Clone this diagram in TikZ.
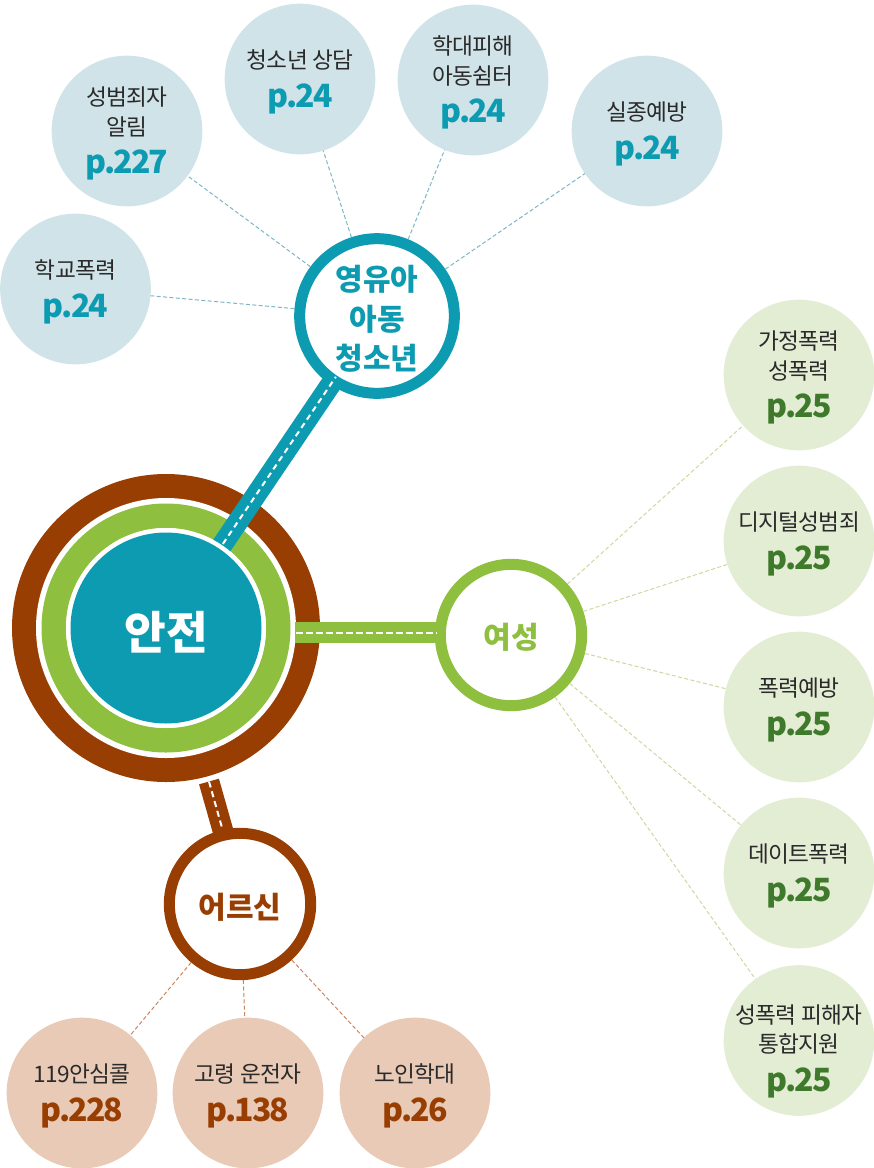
\documentclass[tikz,border=0pt]{standalone}
\usepackage{fontspec}
\setmainfont{Noto Sans CJK KR}
\usetikzlibrary{calc}
\definecolor{tealM}{HTML}{0D9BB1}
\definecolor{tealL}{HTML}{D0E3E9}
\definecolor{tealD}{HTML}{7DB6C6}
\definecolor{greenM}{HTML}{8FBF3F}
\definecolor{greenL}{HTML}{E3EDD4}
\definecolor{greenD}{HTML}{CFD6A0}
\definecolor{greenT}{HTML}{3F7A2C}
\definecolor{brownM}{HTML}{993E03}
\definecolor{brownL}{HTML}{E8CAB6}
\definecolor{brownD}{HTML}{CB8560}
\definecolor{inkT}{HTML}{2A2A2A}
\newcommand{\pnum}[2]{\raisebox{-7pt}[\height][\dimexpr\depth+3pt\relax]{\fontsize{24pt}{24pt}\selectfont\bfseries\addfontfeature{LetterSpace=-6}\color{#1}#2}}
\newcommand{\low}[2][2.25pt]{\raisebox{-#1}[\height][\depth]{#2}}
\tikzset{
  leaf/.style={circle,minimum size=113pt,inner sep=0pt,outer sep=0pt,draw=none,align=center,text=inkT,font=\fontsize{17pt}{22pt}\selectfont\addfontfeature{LetterSpace=-3}},
  hub/.style={circle,draw=#1,line width=8.25pt,fill=white,inner sep=0pt,align=center,font=\fontsize{22.5pt}{29.5pt}\selectfont\bfseries,text=#1},
  spoke/.style={draw=#1,line width=0.75pt,dash pattern=on 3pt off 1.8pt},
  road/.style={draw=#1,line width=15.5pt},
  centerline/.style={draw=white,line width=1.5pt,dash pattern=on #1},
}
\begin{document}
\begin{tikzpicture}[x=0.75pt,y=-0.75pt]
\useasboundingbox (0,0) rectangle (874,1168);
% main rings
\fill[brownM] (166,628) circle[radius=154];
\fill[white] (166,628) circle[radius=130];
\fill[greenM] (166,628) circle[radius=124.5];
\fill[white] (166,628) circle[radius=100];
% leaves
\node[leaf,fill=tealL] (t1) at (75.5,289) {학교폭력\\\pnum{tealM}{p.24}};
\node[leaf,fill=tealL] (t2) at (127,131) {성범죄자\\알림\\\pnum{tealM}{p.227}};
\node[leaf,fill=tealL] (t3) at (300,79) {청소년 상담\\\pnum{tealM}{p.24}};
\node[leaf,fill=tealL] (t4) at (473,80) {학대피해\\아동쉼터\\\pnum{tealM}{p.24}};
\node[leaf,fill=tealL] (t5) at (647,131) {실종예방\\\pnum{tealM}{p.24}};
\node[leaf,fill=greenL] (g1) at (799,375) {가정폭력\\성폭력\\\pnum{greenT}{p.25}};
\node[leaf,fill=greenL] (g2) at (799,541) {디지털성범죄\\\pnum{greenT}{p.25}};
\node[leaf,fill=greenL] (g3) at (799,707) {폭력예방\\\pnum{greenT}{p.25}};
\node[leaf,fill=greenL] (g4) at (799,873) {데이트폭력\\\pnum{greenT}{p.25}};
\node[leaf,fill=greenL] (g5) at (799,1040.5) {\low[6pt]{\makebox[70pt]{성폭력 피해자}}\\\low[6pt]{통합지원}\\\low[6pt]{\pnum{greenT}{p.25}}};
\node[leaf,fill=brownL] (b1) at (82,1093) {119안심콜\\\pnum{brownM}{p.228}};
\node[leaf,fill=brownL] (b2) at (248,1093) {고령 운전자\\\pnum{brownM}{p.138}};
\node[leaf,fill=brownL] (b3) at (415,1093) {노인학대\\\pnum{brownM}{p.26}};
% hubs
\coordinate (tc) at (377,316);
\coordinate (gc) at (511,635);
\coordinate (bc) at (240,904);
\coordinate (mc) at (166,628);
% roads
\coordinate (gs) at (295,632.5);
\coordinate (ge) at (445,632.5);
\coordinate (be) at (225,838);
\coordinate (bs) at (209,781.5);
\coordinate (be2) at (222.5,829.5);
\draw[road=tealM] (mc) -- (tc);
\draw[road=greenM] (gs) -- (ge);
\draw[road=brownM] (bs) -- (be);
\node[hub=tealM,minimum size=116pt] (thub) at (tc) {\low{영유아}\\\low{아동}\\\low{청소년}};
\node[hub=greenM,minimum size=106pt] (ghub) at (gc) {\low[1.5pt]{여성}};
\node[hub=brownM,minimum size=106pt] (bhub) at (bc) {\low{어르신}};
% dashed centre lines
\draw[centerline={4.3pt off 3.2pt}] ($(mc)!0.19!(tc)$) -- ($(mc)!0.805!(tc)$);
\draw[centerline={5pt off 2.5pt}] (296,632.5) -- (437,632.5);
\draw[centerline={4.6pt off 3pt}] (bs) -- (be2);
% inner disc
\fill[white] (166,628) circle[radius=100];
\node[circle,fill=tealM,minimum size=143.25pt,inner sep=0pt,outer sep=0pt,text=white,font=\fontsize{34pt}{34pt}\selectfont\bfseries] (main) at (mc) {\low[3pt]{안전}};
% spokes
\foreach \a in {t1,t2,t3,t4,t5} \draw[spoke=tealD] (thub) -- (\a);
\foreach \a in {g1,g2,g3,g4,g5} \draw[spoke=greenD] (ghub) -- (\a);
\foreach \a in {b1,b2,b3} \draw[spoke=brownD] (bhub) -- (\a);
\end{tikzpicture}
\end{document}
